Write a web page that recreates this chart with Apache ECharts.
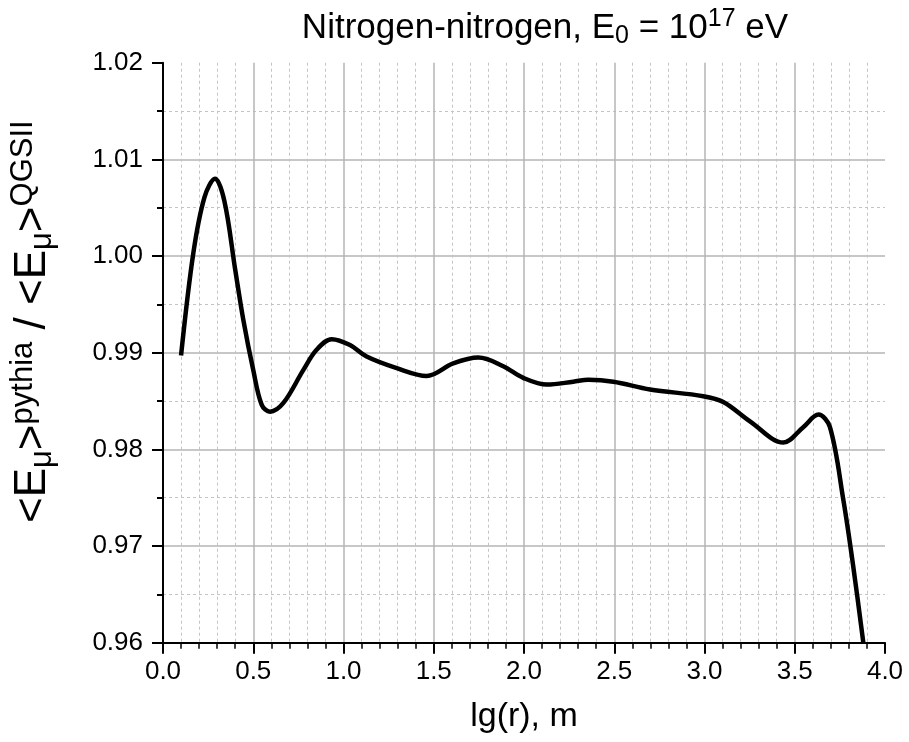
<!DOCTYPE html>
<html>
<head>
<meta charset="utf-8">
<script src="https://cdn.jsdelivr.net/npm/echarts@6/dist/echarts.min.js"></script>
<style>
html,body{margin:0;padding:0;background:#fff;}
#chart{width:909px;height:742px;}
</style>
</head>
<body>
<div id="chart"></div>
<script>
const lgR = [0.10, 0.168, 0.23, 0.288, 0.34, 0.40, 0.445, 0.50, 0.547, 0.593, 0.667, 0.777, 0.851, 0.935, 1.036, 1.128, 1.295, 1.461, 1.608, 1.747, 1.885, 1.996, 2.126, 2.273, 2.356, 2.495, 2.698, 2.993, 3.104, 3.252, 3.437, 3.547, 3.631, 3.695, 3.769, 3.824, 3.88];
const ratio = [0.9897, 1.0003, 1.0061, 1.0080, 1.0057, 0.9986, 0.9934, 0.9882, 0.9846, 0.9839, 0.9848, 0.9882, 0.9903, 0.9914, 0.9908, 0.9896, 0.9884, 0.9876, 0.9889, 0.9895, 0.9886, 0.9874, 0.9867, 0.9870, 0.9872, 0.9870, 0.9862, 0.9855, 0.9849, 0.9829, 0.9807, 0.9823, 0.9836, 0.9823, 0.9748, 0.9679, 0.9600];
const xTicks = [0.0, 0.5, 1.0, 1.5, 2.0, 2.5, 3.0, 3.5, 4.0];
const yTicks = [0.96, 0.97, 0.98, 0.99, 1.00, 1.01, 1.02];

const chart = echarts.init(document.getElementById('chart'), null, {renderer: 'canvas'});
const FONT = '"Liberation Sans", Arial, sans-serif';
const pts = lgR.map((x, i) => [x, ratio[i]]);

chart.setOption({
  animation: false,
  backgroundColor: '#ffffff',
  title: {
    text: 'Nitrogen-nitrogen, E{sub|0} = 10{sup|17} eV',
    left: 540, top: 2, textAlign: 'center',
    textStyle: {
      fontFamily: FONT, fontSize: 35, fontWeight: 'normal', color: '#000',
      lineHeight: 42,
      rich: {
        sub: {fontFamily: FONT, fontSize: 25, verticalAlign: 'bottom', lineHeight: 30, padding: [14, 0, 0, 0]},
        sup: {fontFamily: FONT, fontSize: 25, verticalAlign: 'top', lineHeight: 30, padding: [0, 0, 14, 0]}
      }
    }
  },
  grid: {left: 163, right: 24, top: 62.7, bottom: 99.3, containLabel: false, outerBoundsMode: 'none'},
  xAxis: {
    type: 'value', min: xTicks[0], max: xTicks[xTicks.length - 1], interval: 0.5,
    name: 'lg(r), m', nameLocation: 'middle', nameGap: 57,
    nameTextStyle: {fontFamily: FONT, fontSize: 34, color: '#000'},
    axisLine: {show: true, onZero: false, lineStyle: {color: '#000', width: 2}},
    axisTick: {show: true, inside: false, length: 11, lineStyle: {color: '#000', width: 2}},
    minorTick: {show: true, splitNumber: 5, length: 6, lineStyle: {color: '#000', width: 1.5}},
    axisLabel: {fontFamily: FONT, fontSize: 26, color: '#000', margin: 16,
      formatter: v => v.toFixed(1)},
    splitLine: {show: true, showMinLine: false, showMaxLine: false, lineStyle: {color: '#b4b4b4', width: 1.5}},
    minorSplitLine: {show: true, lineStyle: {color: '#c4c4c4', width: 1, type: [3, 3]}}
  },
  yAxis: {
    type: 'value', min: yTicks[0], max: yTicks[yTicks.length - 1], interval: 0.01,
    name: '<E{sub|μ}>{sup|pythia} / <E{sub|μ}>{sup|QGSII}',
    nameLocation: 'middle', nameRotate: 90, nameGap: 105,
    nameTextStyle: {
      fontFamily: FONT, fontSize: 44, color: '#000', lineHeight: 50,
      padding: [0, 0, 0, 62],
      rich: {
        sub: {fontFamily: FONT, fontSize: 31, verticalAlign: 'bottom', lineHeight: 36, padding: [18, 0, 0, 0]},
        sup: {fontFamily: FONT, fontSize: 31, verticalAlign: 'top', lineHeight: 36, padding: [0, 0, 18, 0]}
      }
    },
    axisLine: {show: true, onZero: false, lineStyle: {color: '#000', width: 2}},
    axisTick: {show: true, inside: false, length: 11, lineStyle: {color: '#000', width: 2}},
    minorTick: {show: true, splitNumber: 2, length: 6, lineStyle: {color: '#000', width: 2}},
    axisLabel: {fontFamily: FONT, fontSize: 26, color: '#000', margin: 20,
      formatter: v => v.toFixed(2)},
    splitLine: {show: true, showMinLine: false, showMaxLine: false, lineStyle: {color: '#b4b4b4', width: 1.5}},
    minorSplitLine: {show: true, lineStyle: {color: '#c4c4c4', width: 1, type: [3, 3]}}
  },
  series: [{
    type: 'line', data: pts, smooth: 0.35, showSymbol: false, clip: true,
    lineStyle: {color: '#000', width: 4.5}
  }]
});
</script>
</body>
</html>
